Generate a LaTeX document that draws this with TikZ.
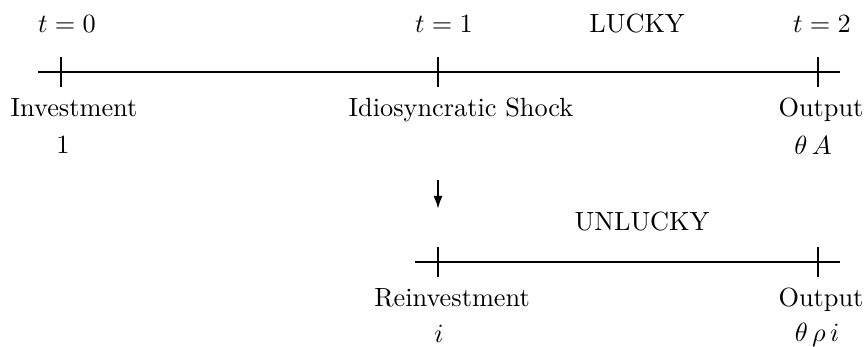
\documentclass[tikz,border=0pt]{standalone}
\usetikzlibrary{arrows.meta}
\begin{document}
\begin{tikzpicture}[x=0.38pt,y=-0.38pt,
  axis/.style={line width=0.8pt},
  tick/.style={line width=0.8pt},
  lbl/.style={inner sep=0pt,anchor=base}]
\useasboundingbox (0,0) rectangle (866,346);
% top line
\coordinate (a0) at (38,72);
\coordinate (a1) at (840,72);
\draw[axis] (a0) -- (a1);
\foreach \x/\n in {61/t0,438/t1,818/t2}{
  \coordinate (\n u) at (\x,57);
  \coordinate (\n d) at (\x,87);
  \draw[tick] (\n u) -- (\n d);
}
\node[lbl] (l0) at (67,33) {$t=0$};
\node[lbl] (l1) at (444,33) {$t=1$};
\node[lbl] (l2) at (822,33) {$t=2$};
\node[lbl] (lucky) at (637,33) {LUCKY};
\node[lbl] (inv) at (74,116) {Investment};
\node[lbl] (one) at (63,153) {$1$};
\node[lbl] (shock) at (461,116) {Idiosyncratic Shock};
\node[lbl] (out1) at (821,116) {Output};
\node[lbl] (thA) at (813,154) {$\theta\,A$};
% arrow
\coordinate (ar0) at (438,180);
\coordinate (ar1) at (438,209);
\draw[line width=0.8pt,-{Latex[length=5pt,width=3.5pt]}] (ar0) -- (ar1);
\node[lbl] (unlucky) at (642,230) {UNLUCKY};
% bottom line
\coordinate (b0) at (415,262);
\coordinate (b1) at (840,262);
\draw[axis] (b0) -- (b1);
\foreach \x/\n in {438/s1,818/s2}{
  \coordinate (\n u) at (\x,247);
  \coordinate (\n d) at (\x,277);
  \draw[tick] (\n u) -- (\n d);
}
\node[lbl] (reinv) at (452,306) {Reinvestment};
\node[lbl] (ii) at (439,342) {$i$};
\node[lbl] (out2) at (821,306) {Output};
\node[lbl] (thri) at (817,341) {$\theta\,\rho\,i$};
\end{tikzpicture}
\end{document}
